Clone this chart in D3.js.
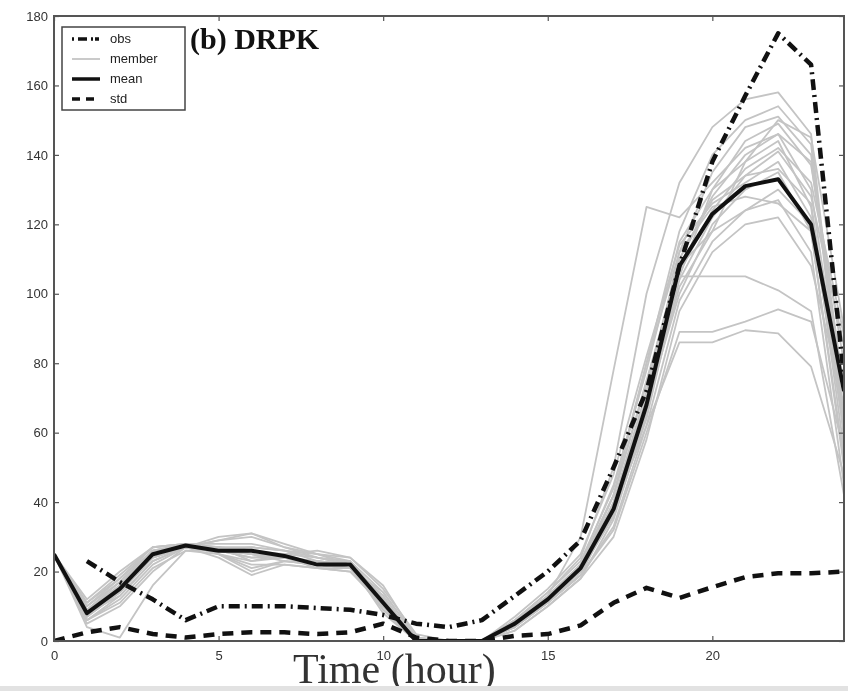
<!DOCTYPE html>
<html>
<head>
<meta charset="utf-8">
<script src="https://cdn.jsdelivr.net/npm/d3@7"></script>
<style>
  body { margin: 0; background: #fff; }
  svg { display: block; filter: blur(0.5px); }
</style>
</head>
<body>
<div id="chart"></div>
<script>
'use strict';

// hours 0..24
var hours = d3.range(0, 25);

var obs = [null, 23, 17, 12, 6, 10, 10, 10, 9.5, 9, 7.5, 5, 4, 6, 13, 20, 29, 50, 72, 108, 138, 157, 175, 166, 76];
var mean = [25, 8, 15, 25, 27.5, 26, 26, 24.5, 22, 22, 11, 0, 0, 0, 5, 12, 21, 38, 68, 108, 123, 131, 133, 120, 72];
var std = [0, 2.5, 4, 2, 1, 2, 2.5, 2.5, 2, 2.5, 5, 1, 0, 0, 1.5, 2, 4.5, 11, 15.3, 12.4, 15.5, 18.4, 19.5, 19.5, 20];

// ensemble members
var members = [
  [25, 10, 17, 26, 28, 27, 25, 24, 22, 21, 10, 0, 0, 0, 5, 13, 30, 78, 125, 122, 132, 142, 146, 138, 70],
  [25, 8, 15, 24, 27, 29, 31, 27, 24, 22, 12, 0, 0, 0, 6, 14, 24, 50, 100, 132, 148, 156, 158, 146, 62],
  [25, 6, 12, 22, 27, 30, 31, 28, 25, 23, 9, 0, 0, 0, 4, 12, 20, 42, 80, 118, 140, 150, 154, 143, 58],
  [25, 12, 20, 27, 28, 25, 21, 23, 22, 21, 14, 1, 0, 0, 5, 11, 19, 38, 70, 112, 135, 148, 151, 140, 72],
  [25, 4, 1, 16, 26, 26, 25, 24, 23, 22, 8, 0, 0, 0, 3, 10, 18, 35, 65, 105, 130, 144, 149, 137, 80],
  [25, 5, 10, 20, 27, 27, 23, 25, 24, 22, 12, 0, 0, 0, 4, 11, 20, 40, 72, 110, 128, 140, 146, 130, 65],
  [25, 7, 14, 25, 28, 26, 27, 26, 25, 24, 15, 2, 0, 0, 6, 13, 22, 45, 78, 115, 130, 138, 144, 125, 55],
  [25, 9, 16, 26, 27, 24, 19, 22, 21, 20, 10, 0, 0, 0, 5, 12, 21, 36, 66, 104, 122, 134, 141, 128, 85],
  [25, 11, 18, 27, 28, 25, 22, 22, 21, 21, 13, 0, 0, 0, 7, 15, 25, 48, 82, 114, 126, 132, 138, 122, 60],
  [25, 8, 13, 23, 27, 27, 26, 25, 22, 21, 11, 0, 0, 0, 5, 12, 21, 37, 68, 100, 120, 130, 135, 118, 50],
  [25, 7, 16, 26, 27, 26, 24, 25, 26, 24, 16, 1, 0, 0, 4, 11, 19, 33, 62, 98, 115, 124, 130, 120, 75],
  [25, 10, 18, 26, 28, 28, 28, 26, 23, 22, 10, 0, 0, 0, 5, 13, 22, 42, 75, 108, 118, 124, 127, 112, 45],
  [25, 6, 11, 21, 26, 25, 20, 23, 22, 21, 9, 0, 0, 0, 3, 10, 18, 30, 58, 95, 112, 120, 122, 108, 68],
  [25, 9, 17, 26, 27, 26, 26, 24, 21, 20, 11, 0, 0, 0, 6, 14, 23, 44, 80, 112, 125, 128, 126, 118, 52],
  [25, 8, 15, 25, 28, 27, 25, 23, 22, 23, 12, 0, 0, 0, 5, 12, 20, 36, 64, 105, 105, 105, 101, 95, 42],
  [25, 7, 14, 24, 27, 29, 30, 27, 25, 22, 10, 0, 0, 0, 4, 11, 19, 32, 60, 89, 89, 92, 95.5, 92, 55],
  [25, 11, 19, 27, 28, 25, 23, 24, 23, 22, 13, 0, 0, 0, 6, 13, 22, 38, 62, 86, 86, 89.5, 88.6, 79, 48],
  [25, 8, 14, 24, 27, 26, 24, 24, 22, 21, 11, 0, 0, 0, 5, 12, 21, 40, 70, 106, 124, 136, 142, 132, 88],
  [25, 6, 13, 23, 27, 27, 27, 26, 24, 23, 14, 1, 0, 0, 5, 12, 21, 36, 66, 102, 118, 138, 150, 145, 90],
  [25, 9, 16, 25, 27, 26, 25, 24, 23, 22, 12, 0, 0, 0, 5, 12, 22, 42, 74, 110, 127, 134, 136, 126, 62]
];

var xTicks = [0, 5, 10, 15, 20];
var yTicks = [0, 20, 40, 60, 80, 100, 120, 140, 160, 180];

var legendItems = [
  { label: 'obs', key: 'obs' },
  { label: 'member', key: 'member' },
  { label: 'mean', key: 'mean' },
  { label: 'std', key: 'std' }
];

var width = 848;
var height = 691;
var margin = { left: 54, right: 4, top: 16, bottom: 50 };

var styles = {
  obs: { color: '#111', width: 4.5, dash: '11,5,2,5' },
  member: { color: '#c4c4c4', width: 1.8, dash: null },
  mean: { color: '#111', width: 4, dash: null },
  std: { color: '#111', width: 4.5, dash: '11,8' }
};

var svg = d3.select('#chart')
  .append('svg')
  .attr('width', width)
  .attr('height', height);

var x = d3.scaleLinear()
  .domain([0, 24])
  .range([margin.left, width - margin.right]);

var y = d3.scaleLinear()
  .domain([0, 180])
  .range([height - margin.bottom, margin.top]);

var plot = svg.append('g').attr('id', 'plot');

plot.append('clipPath')
  .attr('id', 'clip')
  .append('rect')
  .attr('x', x(0))
  .attr('y', y(180))
  .attr('width', x(24) - x(0))
  .attr('height', y(0) - y(180));

var lines = plot.append('g').attr('clip-path', 'url(#clip)');

var line = d3.line()
  .defined(function(d){ return d[1] !== null; })
  .x(function(d){ return x(d[0]); })
  .y(function(d){ return y(d[1]); });

function pairs(values){
  return hours.map(function(h, i){ return [h, values[i]]; });
}

function drawSeries(values, st){
  var p = lines.append('path')
    .datum(pairs(values))
    .attr('d', line)
    .attr('fill', 'none')
    .attr('stroke', st.color)
    .attr('stroke-width', st.width)
    .attr('stroke-linejoin', 'round');
  if(st.dash){
    p.attr('stroke-dasharray', st.dash);
  }
  return p;
}

members.forEach(function(m){
  drawSeries(m, styles.member);
});
drawSeries(std, styles.std);
drawSeries(mean, styles.mean);
drawSeries(obs, styles.obs);

// box and ticks (ticks point inward on all four sides)
var axisColor = '#555';

var xAxis = d3.axisBottom(x).tickValues(xTicks).tickSize(-5).tickPadding(10).tickFormat(d3.format('d'));
var yAxis = d3.axisLeft(y).tickValues(yTicks).tickSize(-5).tickPadding(6).tickFormat(d3.format('d'));
var xAxisTop = d3.axisTop(x).tickValues(xTicks).tickSize(-5).tickFormat('');
var yAxisRight = d3.axisRight(y).tickValues(yTicks).tickSize(-5).tickFormat('');

function styleAxis(g){
  g.select('.domain').remove();
  g.selectAll('.tick line').attr('stroke', axisColor).attr('stroke-width', 1.2);
  g.selectAll('.tick text')
    .attr('fill', '#333')
    .style('font-family', '"Liberation Sans", Arial, sans-serif')
    .style('font-size', '13px');
}

svg.append('g').attr('transform', 'translate(0,' + y(0) + ')').call(xAxis).call(styleAxis);
svg.append('g').attr('transform', 'translate(' + x(0) + ',0)').call(yAxis).call(styleAxis);
svg.append('g').attr('transform', 'translate(0,' + y(180) + ')').call(xAxisTop).call(styleAxis);
svg.append('g').attr('transform', 'translate(' + x(24) + ',0)').call(yAxisRight).call(styleAxis);

svg.append('rect')
  .attr('x', x(0))
  .attr('y', y(180))
  .attr('width', x(24) - x(0))
  .attr('height', y(0) - y(180))
  .attr('fill', 'none')
  .attr('stroke', axisColor)
  .attr('stroke-width', 2);

// title inside the plot
svg.append('text')
  .attr('x', 190)
  .attr('y', 49)
  .style('font-family', '"Liberation Serif", "Times New Roman", serif')
  .style('font-weight', 'bold')
  .style('font-size', '30px')
  .attr('fill', '#111')
  .text('(b) DRPK');

// x label
svg.append('text')
  .attr('x', 293)
  .attr('y', 683)
  .style('font-family', '"Liberation Serif", "Times New Roman", serif')
  .style('font-size', '42px')
  .attr('fill', '#333')
  .text('Time (hour)');

// legend
var legend = svg.append('g').attr('id', 'legend');

legend.append('rect')
  .attr('x', 62)
  .attr('y', 27)
  .attr('width', 123)
  .attr('height', 83)
  .attr('fill', '#fff')
  .attr('stroke', '#444')
  .attr('stroke-width', 1.5);

var rows = legend.selectAll('g.item')
  .data(legendItems)
  .enter()
  .append('g')
  .attr('class', 'item')
  .attr('transform', function(d, i){ return 'translate(0,' + (39 + i * 20) + ')'; });

rows.append('line')
  .attr('x1', 72)
  .attr('x2', 100)
  .attr('y1', 0)
  .attr('y2', 0)
  .attr('stroke', function(d){ return styles[d.key].color; })
  .attr('stroke-width', function(d){ return Math.min(styles[d.key].width, 3.5); })
  .attr('stroke-dasharray', function(d){
    if(d.key === 'obs') return '2,4,9,4,2';
    if(d.key === 'std') return '8,6';
    return null;
  });

rows.append('text')
  .attr('x', 110)
  .attr('y', 4)
  .style('font-family', '"Liberation Sans", Arial, sans-serif')
  .style('font-size', '13px')
  .attr('fill', '#222')
  .text(function(d){ return d.label; });

// scan edge at the bottom
svg.append('rect')
  .attr('x', 0)
  .attr('y', 686)
  .attr('width', width)
  .attr('height', 5)
  .attr('fill', '#e2e2e2');
</script>
</body>
</html>
